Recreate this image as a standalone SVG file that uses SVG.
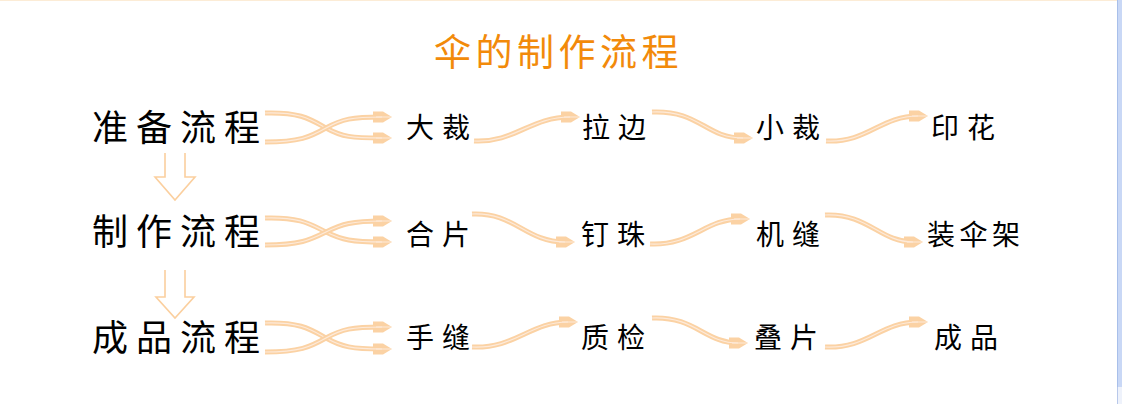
<svg xmlns="http://www.w3.org/2000/svg" xmlns:xlink="http://www.w3.org/1999/xlink" width="1122" height="404" viewBox="0 0 1122 404">
  <style>
    .title { font-family: "Noto Sans CJK SC", "Noto Sans", sans-serif; font-size: 37px; fill: #f28a0a; letter-spacing: 4.5px; }
    .lbl { font-family: "Noto Sans CJK SC", "Noto Sans", sans-serif; font-size: 36px; fill: #000; letter-spacing: 8px; }
    .item { font-family: "Noto Sans CJK SC", "Noto Sans", sans-serif; font-size: 28px; fill: #000; letter-spacing: 8px; }
    .outer { fill: none; stroke: #fbd2a4; stroke-width: 5; marker-end: url(#ah); }
    .inner { fill: none; stroke: #fdeada; stroke-width: 1.2; }
    .down { fill: none; stroke: #fbcf9e; stroke-width: 1.6; }
  </style>
  <defs>
    <marker id="ah" markerUnits="userSpaceOnUse" viewBox="-11 -7 22 14" refX="0" refY="0" markerWidth="22" markerHeight="14" orient="auto">
      <path d="M10,0 L1,-5.5 L-9,-5.5 L-9,5.5 L1,5.5 Z" fill="#fbd2a4"/>
      <path d="M-6,0 L9,0" stroke="#fdeada" stroke-width="1"/>
    </marker>
    <path id="c1a" d="M265,113 C300,112 310,119 326,128 C342,137 352,138 382,138"/>
    <path id="c1b" d="M265,142 C300,142 310,137 326,128 C342,119 352,117 382,117"/>
    <path id="c2a" d="M265,218 C300,217 310,224 326,232 C342,240 352,242 382,242"/>
    <path id="c2b" d="M265,245 C300,245 310,240 326,232 C342,224 352,221 382,221"/>
    <path id="c3a" d="M265,323 C300,322 310,329 326,338 C342,347 352,349 382,349"/>
    <path id="c3b" d="M265,352 C300,352 310,347 326,338 C342,329 352,327 382,327"/>
    <path id="r1s1" d="M474,141 C515,143 530,117 570,117"/>
    <path id="r1s2" d="M652,112 C700,110 705,138 743,138"/>
    <path id="r1s3" d="M826,141 C868,143 880,116 918,116"/>
    <path id="r2s1" d="M472,214 C515,212 525,242 565,242"/>
    <path id="r2s2" d="M650,244 C692,246 705,219 740,219"/>
    <path id="r2s3" d="M825,215 C868,213 880,242 913,242"/>
    <path id="r3s1" d="M472,347 C515,349 530,322 568,322"/>
    <path id="r3s2" d="M652,318 C695,316 705,343 738,343"/>
    <path id="r3s3" d="M825,347 C868,349 880,322 918,322"/>
  </defs>

  <rect x="0" y="0" width="1122" height="404" fill="#ffffff"/>
  <line x1="0" y1="0.5" x2="1117" y2="0.5" stroke="#fcecd6" stroke-width="1"/>

  <!-- scrollbar -->
  <g id="scrollbar">
    <rect x="1117" y="0" width="5" height="387" fill="#c9d8f6"/>
    <line x1="1117.5" y1="0" x2="1117.5" y2="387" stroke="#a8bfea" stroke-width="1"/>
    <rect x="1117" y="387" width="5" height="17" fill="#eef2fb"/>
    <line x1="1117.5" y1="387" x2="1117.5" y2="404" stroke="#b8c8ea" stroke-width="1"/>
  </g>

  <g id="title">
    <text class="title" x="434" y="65.5">伞的制作流程</text>
  </g>

  <g id="row-labels">
    <g id="n-prep"><text class="lbl" x="92" y="140.5">准备流程</text></g>
    <g id="n-make"><text class="lbl" x="92" y="245">制作流程</text></g>
    <g id="n-final"><text class="lbl" x="92" y="350.5">成品流程</text></g>
  </g>

  <g id="row1">
    <g id="n-dacai"><text class="item" x="406" y="138">大裁</text></g>
    <g id="n-labian"><text class="item" x="582" y="138">拉边</text></g>
    <g id="n-xiaocai"><text class="item" x="756" y="138">小裁</text></g>
    <g id="n-yinhua"><text class="item" x="931" y="138">印花</text></g>
  </g>
  <g id="row2">
    <g id="n-hepian"><text class="item" x="406" y="245">合片</text></g>
    <g id="n-dingzhu"><text class="item" x="581" y="245">钉珠</text></g>
    <g id="n-jifeng"><text class="item" x="756" y="245">机缝</text></g>
    <g id="n-zhuangsanjia"><text class="item" x="927" y="245" style="letter-spacing:4.5px">装伞架</text></g>
  </g>
  <g id="row3">
    <g id="n-shoufeng"><text class="item" x="406" y="348">手缝</text></g>
    <g id="n-zhijian"><text class="item" x="581" y="348">质检</text></g>
    <g id="n-diepian"><text class="item" x="754" y="348">叠片</text></g>
    <g id="n-chengpin"><text class="item" x="934" y="348">成品</text></g>
  </g>

  <g id="connectors">
    <path class="down" d="M165,153 L165,177 L155,177 L175,200 L195,177 L185,177 L185,153"/>
    <path class="down" d="M165,270 L165,297 L156,297 L175,318 L194,297 L185,297 L185,270"/>

    <use xlink:href="#c1a" class="outer"/><use xlink:href="#c1a" class="inner"/>
    <use xlink:href="#c1b" class="outer"/><use xlink:href="#c1b" class="inner"/>
    <use xlink:href="#c2a" class="outer"/><use xlink:href="#c2a" class="inner"/>
    <use xlink:href="#c2b" class="outer"/><use xlink:href="#c2b" class="inner"/>
    <use xlink:href="#c3a" class="outer"/><use xlink:href="#c3a" class="inner"/>
    <use xlink:href="#c3b" class="outer"/><use xlink:href="#c3b" class="inner"/>

    <use xlink:href="#r1s1" class="outer"/><use xlink:href="#r1s1" class="inner"/>
    <use xlink:href="#r1s2" class="outer"/><use xlink:href="#r1s2" class="inner"/>
    <use xlink:href="#r1s3" class="outer"/><use xlink:href="#r1s3" class="inner"/>
    <use xlink:href="#r2s1" class="outer"/><use xlink:href="#r2s1" class="inner"/>
    <use xlink:href="#r2s2" class="outer"/><use xlink:href="#r2s2" class="inner"/>
    <use xlink:href="#r2s3" class="outer"/><use xlink:href="#r2s3" class="inner"/>
    <use xlink:href="#r3s1" class="outer"/><use xlink:href="#r3s1" class="inner"/>
    <use xlink:href="#r3s2" class="outer"/><use xlink:href="#r3s2" class="inner"/>
    <use xlink:href="#r3s3" class="outer"/><use xlink:href="#r3s3" class="inner"/>
  </g>
</svg>
